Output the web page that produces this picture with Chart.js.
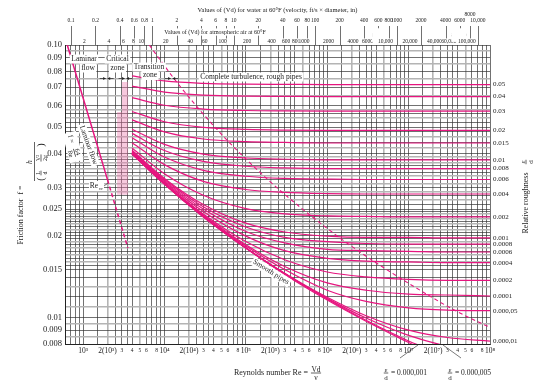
<!DOCTYPE html>
<html>
<head>
    <title>Moody Diagram</title>
    <script src="https://cdn.jsdelivr.net/npm/chart.js"></script>
    <style>
        body {
            margin: 0;
            background-color: #fff;
        }
    </style>
</head>
<body>
    <canvas id="chart" width="560" height="388"></canvas>
    <script>
        const SERIF = '"Liberation Serif", "DejaVu Serif", serif';
        const PINK = '#e6157f';
        const INK = '#222';

        const reynolds = [4e3, 1e4, 3e4, 1e5, 3e5, 1e6, 3e6, 1e7, 3e7, 1e8];

        // friction factor along each relative roughness curve
        const f_05 = [0.0770, 0.0738, 0.0723, 0.0718, 0.0717, 0.0716, 0.0716, 0.0716, 0.0716, 0.0716];
        const f_04 = [0.0707, 0.0672, 0.0655, 0.0649, 0.0648, 0.0647, 0.0647, 0.0647, 0.0647, 0.0647];
        const f_03 = [0.0641, 0.0601, 0.0582, 0.0575, 0.0573, 0.0572, 0.0572, 0.0572, 0.0572, 0.0572];
        const f_02 = [0.0570, 0.0523, 0.0499, 0.0490, 0.0487, 0.0486, 0.0486, 0.0486, 0.0486, 0.0486];
        const f_015 = [0.0531, 0.0480, 0.0452, 0.0442, 0.0439, 0.0437, 0.0437, 0.0437, 0.0437, 0.0437];
        const f_01 = [0.0491, 0.0432, 0.0398, 0.0385, 0.0381, 0.0379, 0.0379, 0.0379, 0.0379, 0.0379];
        const f_008 = [0.0474, 0.0410, 0.0374, 0.0359, 0.0354, 0.0352, 0.0352, 0.0352, 0.0352, 0.0352];
        const f_006 = [0.0457, 0.0388, 0.0347, 0.0330, 0.0324, 0.0322, 0.0321, 0.0321, 0.0321, 0.0321];
        const f_004 = [0.0438, 0.0364, 0.0316, 0.0295, 0.0288, 0.0285, 0.0284, 0.0284, 0.0284, 0.0284];
        const f_002 = [0.0419, 0.0337, 0.0281, 0.0251, 0.0240, 0.0236, 0.0235, 0.0234, 0.0234, 0.0234];
        const f_001 = [0.0411, 0.0324, 0.0260, 0.0222, 0.0206, 0.0199, 0.0197, 0.0197, 0.0196, 0.0196];
        const f_0008 = [0.0408, 0.0321, 0.0255, 0.0215, 0.0197, 0.0190, 0.0187, 0.0186, 0.0186, 0.0186];
        const f_0006 = [0.0406, 0.0318, 0.0250, 0.0207, 0.0188, 0.0178, 0.0176, 0.0175, 0.0174, 0.0174];
        const f_0004 = [0.0404, 0.0315, 0.0245, 0.0199, 0.0176, 0.0165, 0.0161, 0.0160, 0.0159, 0.0159];
        const f_0002 = [0.0401, 0.0312, 0.0240, 0.0190, 0.0163, 0.0147, 0.0141, 0.0138, 0.0137, 0.0137];
        const f_0001 = [0.0400, 0.0311, 0.0238, 0.0185, 0.0154, 0.0134, 0.0126, 0.0122, 0.0121, 0.0120];
        const f_00005 = [0.0400, 0.0310, 0.0236, 0.0183, 0.0150, 0.0126, 0.01146, 0.01086, 0.01065, 0.0106];
        const f_00001 = [0.0399, 0.0309, 0.0235, 0.0180, 0.01455, 0.01187, 0.01016, 0.00899, 0.00845, 0.0082];
        const f_000005 = [0.0399, 0.0309, 0.0235, 0.0180, 0.01452, 0.01176, 0.00996, 0.0086, 0.00786, 0.0075];
        const f_000001 = [0.0399, 0.0309, 0.0235, 0.0180, 0.0145, 0.0117, 0.00977, 0.00821, 0.0072, null];
        const fSmooth = [0.0399, 0.0309, 0.0234, 0.0180, 0.0144, 0.0116, 0.0097, 0.0081, 0.0069, null];

        const roughCurves = [
            ['0.05', f_05], ['0.04', f_04], ['0.03', f_03], ['0.02', f_02], ['0.015', f_015],
            ['0.01', f_01], ['0.008', f_008], ['0.006', f_006], ['0.004', f_004], ['0.002', f_002],
            ['0.001', f_001], ['0.0008', f_0008], ['0.0006', f_0006], ['0.0004', f_0004],
            ['0.0002', f_0002], ['0.0001', f_0001], ['0.000,05', f_00005], ['0.000,01', f_00001],
            ['', f_000005], ['', f_000001]
        ];

        // laminar line f = 64/Re, solid then dashed past the critical value
        const laminarRe = [640, 2000];
        const laminarF = [0.1, 0.032];
        const laminarDashRe = [2000, 3550];
        const laminarDashF = [0.032, 0.018];

        // border of complete turbulence
        const roughBorderRe = [6500, 14950, 45350, 102700, 296700, 1.43e6, 3.97e6, 1.83e7, 3.9e7, 1e8];
        const roughBorderF = [0.1, 0.0716, 0.0486, 0.0379, 0.0284, 0.0196, 0.0159, 0.01198, 0.01054, 0.0092];

        // shaded critical zone outline
        const critRe = [3010, 3570, 3570, 2620, 2620, 3010, 3010];
        const critF = [0.0731, 0.0731, 0.0282, 0.0282, 0.0568, 0.0568, 0.0731];

        // axis ticks
        const gridMantissa = [1, 1.5, 2, 2.5, 3, 3.5, 4, 5, 6, 7, 8, 9];
        const yGrid = [0.008, 0.0085, 0.009, 0.0095, 0.01, 0.011, 0.012, 0.013, 0.014, 0.015,
            0.0155, 0.016, 0.0165, 0.017, 0.0175, 0.018, 0.0185, 0.019, 0.0195, 0.02,
            0.0205, 0.021, 0.0215, 0.022, 0.0225, 0.023, 0.0235, 0.024, 0.0245, 0.025,
            0.026, 0.027, 0.028, 0.029, 0.03, 0.031, 0.032, 0.033, 0.034, 0.035, 0.036, 0.037,
            0.038, 0.039, 0.04, 0.042, 0.044, 0.046, 0.048, 0.05, 0.052, 0.054, 0.056, 0.058,
            0.06, 0.065, 0.07, 0.075, 0.08, 0.085, 0.09, 0.095, 0.1];
        const yLabels = ['0.10', '0.09', '0.08', '0.07', '0.06', '0.05', '0.04', '0.03', '0.025',
            '0.02', '0.015', '0.01', '0.009', '0.008'];
        const waterTicks = [0.1, 0.2, 0.4, 0.6, 0.8, 1, 2, 4, 6, 8, 10, 20, 40, 60, 80, 100, 200, 400,
            600, 800, 1000, 2000, 4000, 6000, 8000, 10000];
        const waterText = ['0.1', '0.2', '0.4', '0.6', '0.8', '1', '2', '4', '6', '8', '10', '20', '40',
            '60', '80', '100', '200', '400', '600', '800', '1000', '2000', '4000', '6000', ['8000', ''], '10,000'];
        const airTicks = [2, 4, 6, 8, 10, 20, 40, 60, 100, 200, 400, 600, 800, 1000, 2000, 4000, 6000,
            8000, 10000, 20000, 40000, 60000, 80000, 100000];
        const airText = ['2', '4', '6', '8', '10', '20', '40', '60', '100', '200', '400', '600', '800',
            '1000', '2000', '4000', '6000', ['8000', ''], '10,000', '20,000', '40,000', '60,000',
            ['80,000', ''], '100,000'];

        const RE_MIN = 600, RE_MAX = 1e8;
        const WATER_FACTOR = 7100, AIR_FACTOR = 520;

        const xGrid = [700, 800, 900];
        for (let e = 3; e < 8; e++) {
            gridMantissa.forEach(m => xGrid.push(m * Math.pow(10, e)));
        }
        xGrid.push(1e8);

        const sup = ['⁰', '¹', '²', '³', '⁴', '⁵', '⁶', '⁷', '⁸'];
        function mantissa(v) {
            const e = Math.floor(Math.log10(v) + 1e-9);
            return { m: Math.round(v / Math.pow(10, e) * 10) / 10, e };
        }
        function xLabel(v) {
            const { m, e } = mantissa(v);
            if (v < 1000) return '';
            if (m === 1) return '10' + sup[e];
            if (m === 2) return '2(10' + sup[e] + ')';
            if ([3, 4, 5, 6, 8].includes(m)) return String(m);
            return '';
        }
        function yLabel(v) {
            const hit = yLabels.find(s => Math.abs(parseFloat(s) / v - 1) < 1e-6);
            return hit || '';
        }
        function pts(xs, ys) {
            return xs.map((x, i) => ({ x: x, y: ys[i] }));
        }

        const datasets = [];
        roughCurves.forEach(([name, f]) => {
            datasets.push({
                label: name, data: pts(reynolds, f), borderColor: PINK, borderWidth: 1.2,
                pointRadius: 0, cubicInterpolationMode: 'monotone', rough: true
            });
        });
        datasets.push({ label: 'smooth', data: pts(reynolds, fSmooth), borderColor: PINK, borderWidth: 1.2,
            pointRadius: 0, cubicInterpolationMode: 'monotone' });
        datasets.push({ label: 'laminar', data: pts(laminarRe, laminarF), borderColor: PINK, borderWidth: 1.5,
            pointRadius: 0 });
        datasets.push({ label: 'laminar dashed', data: pts(laminarDashRe, laminarDashF), borderColor: PINK,
            borderWidth: 1.5, borderDash: [4, 3], pointRadius: 0 });
        datasets.push({ label: 'complete turbulence', data: pts(roughBorderRe, roughBorderF), borderColor: PINK,
            borderWidth: 1.1, borderDash: [4, 3], pointRadius: 0, cubicInterpolationMode: 'monotone' });
        datasets.push({ label: 'critical zone', data: pts(critRe, critF), borderWidth: 0, borderColor: 'rgba(0,0,0,0)',
            backgroundColor: 'rgba(238,120,172,0.4)', fill: 'shape', pointRadius: 0, tension: 0 });

        // drawing helpers for the text on the chart
        function put(ctx, text, x, y, size, o = {}) {
            ctx.save();
            ctx.translate(x, y);
            if (o.rot) ctx.rotate(o.rot * Math.PI / 180);
            ctx.font = (o.italic ? 'italic ' : '') + size + 'px ' + SERIF;
            ctx.textAlign = o.align || 'center';
            ctx.textBaseline = 'middle';
            if (o.bg) {
                const w = ctx.measureText(text).width;
                const x0 = ctx.textAlign === 'center' ? -w / 2 : ctx.textAlign === 'right' ? -w : 0;
                ctx.fillStyle = '#fff';
                ctx.fillRect(x0 - 1.5, -size * 0.6, w + 3, size * 1.2);
            }
            ctx.fillStyle = o.color || INK;
            ctx.fillText(text, 0, 0);
            ctx.restore();
        }
        function frac(ctx, num, den, x, y, size) {
            ctx.font = size + 'px ' + SERIF;
            const w = Math.max(ctx.measureText(num).width, ctx.measureText(den).width);
            ctx.fillStyle = INK;
            ctx.textAlign = 'center';
            ctx.textBaseline = 'alphabetic';
            ctx.fillText(num, x, y - 1.2);
            ctx.textBaseline = 'top';
            ctx.fillText(den, x, y + 1.2);
            ctx.fillRect(x - w / 2 - 0.5, y - 0.35, w + 1, 0.7);
        }
        function arrowPair(ctx, bx, y) {
            ctx.save();
            ctx.strokeStyle = INK;
            ctx.fillStyle = INK;
            ctx.lineWidth = 0.7;
            [-1, 1].forEach(d => {
                ctx.beginPath();
                ctx.moveTo(bx + d * 7, y);
                ctx.lineTo(bx + d * 1, y);
                ctx.stroke();
                ctx.beginPath();
                ctx.moveTo(bx + d * 0.8, y);
                ctx.lineTo(bx + d * 3.5, y - 1.6);
                ctx.lineTo(bx + d * 3.5, y + 1.6);
                ctx.closePath();
                ctx.fill();
            });
            ctx.restore();
        }
        function line(ctx, x1, y1, x2, y2) {
            ctx.save();
            ctx.strokeStyle = INK;
            ctx.lineWidth = 0.6;
            ctx.beginPath();
            ctx.moveTo(x1, y1);
            ctx.lineTo(x2, y2);
            ctx.stroke();
            ctx.restore();
        }

        const moodyText = {
            id: 'moodyText',
            beforeDraw(chart) {
                // long ticks of the water scale reach down to the plot
                const s = chart.scales.water, ctx = chart.ctx;
                ctx.save();
                ctx.strokeStyle = '#333';
                ctx.lineWidth = 0.7;
                s.ticks.forEach(t => {
                    const px = Math.round(s.getPixelForValue(t.value)) + 0.5;
                    ctx.beginPath();
                    ctx.moveTo(px, s.bottom - 1);
                    ctx.lineTo(px, chart.chartArea.top);
                    ctx.stroke();
                });
                ctx.restore();
            },
            afterDatasetsDraw(chart) {
                const ctx = chart.ctx, area = chart.chartArea;
                // roughness values at the right end of each curve
                chart.data.datasets.forEach((ds, i) => {
                    if (!ds.rough || !ds.label) return;
                    const meta = chart.getDatasetMeta(i);
                    const last = meta.data[meta.data.length - 1];
                    put(ctx, ds.label, area.right + 3, last.y, 7, { align: 'left' });
                });

                put(ctx, 'Laminar', 84, 59, 7.5, { bg: true });
                put(ctx, 'flow', 88, 68, 7.5, { bg: true });
                put(ctx, 'Critical', 117.5, 59, 7.5, { bg: true });
                put(ctx, 'zone', 117.5, 68, 7.5, { bg: true });
                put(ctx, 'Transition', 149, 67, 7.5, { bg: true });
                put(ctx, 'zone', 150, 75.5, 7.5, { bg: true });
                put(ctx, 'Complete turbulence, rough pipes', 251, 77, 7.5, { bg: true });
                const x = chart.scales.x;
                [1950, 3330, 12250].forEach(re => arrowPair(ctx, x.getPixelForValue(re), 78.5));

                put(ctx, 'Laminar flow', 88.5, 145, 7.5, { bg: true, rot: 70 });
                // f = 64/Re along the laminar line
                ctx.save();
                ctx.translate(73, 147);
                ctx.rotate(75 * Math.PI / 180);
                ctx.fillStyle = '#fff';
                ctx.fillRect(-15, -7, 30, 14);
                put(ctx, 'f =', -8, 0, 7, {});
                frac(ctx, '64', 'Re', 6, 0, 6.5);
                ctx.restore();

                // Re critical pointer
                ctx.save();
                ctx.fillStyle = '#fff';
                ctx.fillRect(89, 181, 15, 10);
                ctx.restore();
                put(ctx, 'Re', 94, 186, 7.5, {});
                put(ctx, 'cr', 101, 188.5, 5, {});
                line(ctx, 104, 186, 108, 183);

                put(ctx, 'Smooth pipes', 271, 272, 7.5, { bg: true, rot: 32 });
            },
            afterDraw(chart) {
                const ctx = chart.ctx;
                // air scale title sits between the water ticks
                put(ctx, 'Values of (Vd) for atmospheric air at 60°F', 215, 32, 6, { bg: true });

                // y axis title with the friction factor definition
                ctx.save();
                ctx.translate(21, 215);
                ctx.rotate(-Math.PI / 2);
                put(ctx, 'Friction factor  f =', 0, 0, 8, {});
                put(ctx, 'h', 53, 9.5, 7.5, { italic: true });
                ctx.fillStyle = INK;
                ctx.fillRect(34, 13, 39, 0.7);
                put(ctx, '(', 36, 20, 10, {});
                frac(ctx, 'L', 'd', 42, 20, 6);
                frac(ctx, 'V²', '2g', 57, 20, 6);
                put(ctx, ')', 70, 20, 10, {});
                ctx.restore();

                // right axis title
                ctx.save();
                ctx.translate(526, 203);
                ctx.rotate(-Math.PI / 2);
                put(ctx, 'Relative roughness', 0, 0, 8, {});
                frac(ctx, 'ε', 'd', 41, 0, 7);
                ctx.restore();

                // x axis title
                put(ctx, 'Reynolds number Re =', 308, 373, 8, { align: 'right' });
                frac(ctx, 'Vd', 'ν', 316, 373, 7.5);

                // the two smallest roughness curves leave through the bottom
                frac(ctx, 'ε', 'd', 386, 373, 7);
                put(ctx, '= 0.000,001', 391, 373, 7.5, { align: 'left' });
                line(ctx, 400, 358, 418, 345);
                frac(ctx, 'ε', 'd', 450, 373, 7);
                put(ctx, '= 0.000,005', 455, 373, 7.5, { align: 'left' });
                line(ctx, 443, 345, 461, 358);
            }
        };

        function xGridStyle(v) {
            const { m } = mantissa(v);
            return [2, 5].includes(m) ? 'gray' : 'black';
        }

        new Chart(document.getElementById('chart'), {
            type: 'line',
            data: { datasets },
            plugins: [moodyText],
            options: {
                responsive: false,
                animation: false,
                events: [],
                layout: { padding: { left: 0, right: 70, top: 0, bottom: 0 } },
                plugins: {
                    legend: { display: false },
                    tooltip: { enabled: false }
                },
                scales: {
                    x: {
                        type: 'logarithmic',
                        position: 'bottom',
                        min: RE_MIN,
                        max: RE_MAX,
                        afterBuildTicks: s => { s.ticks = xGrid.map(v => ({ value: v })); },
                        afterFit: s => { s.height = 44; },
                        border: { display: true, color: INK, width: 1 },
                        grid: {
                            drawTicks: false,
                            color: c => c.tick && xGridStyle(c.tick.value) === 'gray' ? '#b4b4b4' : '#333',
                            lineWidth: c => c.tick && xGridStyle(c.tick.value) === 'gray' ? 1.6 : 0.7
                        },
                        ticks: {
                            autoSkip: false,
                            maxRotation: 0,
                            padding: 3,
                            color: INK,
                            callback: v => xLabel(v),
                            font: c => ({
                                family: SERIF,
                                size: c.tick && mantissa(c.tick.value).m <= 2 ? 7.5 : 5.5
                            })
                        }
                    },
                    y: {
                        type: 'logarithmic',
                        position: 'left',
                        min: 0.008,
                        max: 0.1,
                        afterBuildTicks: s => { s.ticks = yGrid.map(v => ({ value: v })); },
                        afterFit: s => { s.width = 65; },
                        border: { display: true, color: INK, width: 1 },
                        grid: {
                            drawTicks: false,
                            color: c => c.index % 2 === 1 && !yLabel(c.tick.value) ? '#b4b4b4' : '#333',
                            lineWidth: c => c.index % 2 === 1 && !yLabel(c.tick.value) ? 1.6 : 0.7
                        },
                        ticks: {
                            autoSkip: false,
                            padding: 3,
                            color: INK,
                            callback: v => yLabel(v),
                            font: { family: SERIF, size: 8.5 }
                        }
                    },
                    water: {
                        type: 'logarithmic',
                        position: 'top',
                        weight: 2,
                        min: RE_MIN / WATER_FACTOR,
                        max: RE_MAX / WATER_FACTOR,
                        afterBuildTicks: s => { s.ticks = waterTicks.map(v => ({ value: v })); },
                        afterFit: s => { s.height = 27; },
                        border: { display: false },
                        grid: { display: false, drawTicks: false },
                        title: {
                            display: true,
                            text: 'Values of (Vd) for water at 60°F (velocity, ft/s × diameter, in)',
                            color: INK,
                            font: { family: SERIF, size: 6.5 },
                            padding: { top: 6, bottom: 0 }
                        },
                        ticks: {
                            autoSkip: false,
                            maxRotation: 0,
                            padding: 3,
                            color: INK,
                            callback: (v, i) => waterText[i],
                            font: { family: SERIF, size: 5.5 }
                        }
                    },
                    air: {
                        type: 'logarithmic',
                        position: 'top',
                        weight: 1,
                        min: RE_MIN / AIR_FACTOR,
                        max: RE_MAX / AIR_FACTOR,
                        afterBuildTicks: s => { s.ticks = airTicks.map(v => ({ value: v })); },
                        afterFit: s => { s.height = 18; },
                        border: { display: false },
                        grid: { display: false, drawTicks: false },
                        ticks: {
                            autoSkip: false,
                            maxRotation: 0,
                            padding: 0,
                            color: INK,
                            showLabelBackdrop: true,
                            backdropColor: '#fff',
                            backdropPadding: 0,
                            callback: (v, i) => airText[i],
                            font: { family: SERIF, size: 5.5 }
                        }
                    }
                }
            }
        });
    </script>
</body>
</html>
